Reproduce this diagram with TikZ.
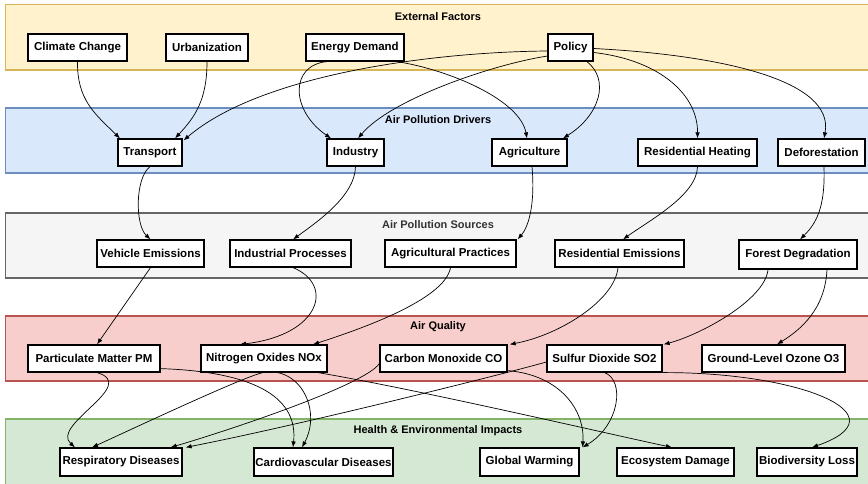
\documentclass[tikz,border=0pt]{standalone}
\usepackage{fontspec}
\setmainfont{Liberation Sans}
\usetikzlibrary{arrows.meta,calc}

\definecolor{extfill}{HTML}{FFF2CC}\definecolor{extline}{HTML}{D6B656}
\definecolor{drvfill}{HTML}{DAE8FC}\definecolor{drvline}{HTML}{6C8EBF}
\definecolor{srcfill}{HTML}{F5F5F5}\definecolor{srcline}{HTML}{666666}
\definecolor{aqfill}{HTML}{F8CECC}\definecolor{aqline}{HTML}{B85450}
\definecolor{heafill}{HTML}{D5E8D4}\definecolor{healine}{HTML}{82B366}
\definecolor{srctext}{HTML}{333333}

\pgfdeclarelayer{bg}
\pgfdeclarelayer{links}
\pgfsetlayers{bg,links,main}

\begin{document}
\begin{tikzpicture}[x=1pt,y=-1pt,
  box/.style={draw=black, line width=1.2pt, fill=white, minimum height=27pt,
    inner sep=0pt, font=\bfseries\fontsize{11.5}{13}\selectfont},
  band/.style={line width=1.3pt},
  bandtitle/.style={font=\bfseries\fontsize{11}{13}\selectfont, inner sep=0pt},
  link/.style={draw=black, line width=0.7pt, -{Latex[length=6pt,width=4.5pt]}}
]
\useasboundingbox (0,0) rectangle (868,484);

% layer bands and their titles
\begin{pgfonlayer}{bg}
  \draw[band, fill=extfill, draw=extline] (5.5,4.5) rectangle (875,70);
  \draw[band, fill=drvfill, draw=drvline] (5.5,108) rectangle (875,173);
  \draw[band, fill=srcfill, draw=srcline] (5.5,213) rectangle (875,278);
  \draw[band, fill=aqfill, draw=aqline] (5.5,316) rectangle (875,381);
  \draw[band, fill=heafill, draw=healine] (5.5,419) rectangle (875,492);
  \node[bandtitle] (tExt) at (438,17) {External Factors};
  \node[bandtitle] (tDrv) at (438,120) {Air Pollution Drivers};
  \node[bandtitle, text=srctext] (tSrc) at (438,224.5) {Air Pollution Sources};
  \node[bandtitle] (tAq) at (438,327) {Air Quality};
  \node[bandtitle] (tHea) at (438,431) {Health \& Environmental Impacts};
\end{pgfonlayer}

% external factors
\node[box, minimum width=99pt] (cc) at (77.5,47.5) {Climate Change};
\node[box, minimum width=82pt] (urb) at (207,47.5) {Urbanization};
\node[box, minimum width=98pt] (ed) at (355,47.5) {Energy Demand};
\node[box, minimum width=45pt] (pol) at (570.5,47.5) {Policy};

% drivers
\node[box, minimum width=64pt] (tr) at (150,152.5) {Transport};
\node[box, minimum width=57pt] (ind) at (355.5,152.5) {Industry};
\node[box, minimum width=75pt] (agr) at (529.5,152.5) {Agriculture};
\node[box, minimum width=119pt] (rh) at (697.5,152.5) {Residential Heating};
\node[box, minimum width=87pt] (def) at (821.5,152.5) {Deforestation};

% sources
\node[box, minimum width=107pt] (ve) at (150.5,253.5) {Vehicle Emissions};
\node[box, minimum width=121pt] (ip) at (290.5,253.5) {Industrial Processes};
\node[box, minimum width=131pt] (ap) at (450.5,253.5) {Agricultural Practices};
\node[box, minimum width=129pt] (re) at (619.5,253.5) {Residential Emissions};
\node[box, minimum width=118pt, minimum height=29pt] (fd) at (798,254.5) {Forest Degradation};

% air quality
\node[box, minimum width=132pt] (pm) at (94,358.5) {Particulate Matter PM};
\node[box, minimum width=126pt] (nox) at (264,358.5) {Nitrogen Oxides NOx};
\node[box, minimum width=127pt] (co) at (443.5,358.5) {Carbon Monoxide CO};
\node[box, minimum width=115pt] (so2) at (604.5,358.5) {Sulfur Dioxide SO2};
\node[box, minimum width=143pt] (o3) at (773.5,358.5) {Ground-Level Ozone O3};

% impacts
\node[box, minimum width=122pt, minimum height=28pt] (resp) at (121,462) {Respiratory Diseases};
\node[box, minimum width=139pt, minimum height=28pt] (cardio) at (323.5,462) {Cardiovascular Diseases};
\node[box, minimum width=99pt, minimum height=28pt] (gw) at (529.5,462) {Global Warming};
\node[box, minimum width=117pt, minimum height=28pt] (eco) at (675.5,462) {Ecosystem Damage};
\node[box, minimum width=100pt, minimum height=28pt] (bio) at (807,462) {Biodiversity Loss};

\begin{pgfonlayer}{links}
% external factors -> drivers
\draw[link] (cc.south) .. controls (77,100) and (95,114) .. ($(tr.north)+(-30,0)$);
\draw[link] (urb.south) .. controls (207,100) and (195,117) .. ($(tr.north)+(25,0)$);
\draw[link] ($(pol.west)+(0,3.5)$) .. controls (430,52) and (260,75) .. ($(tr.north east)+(1,2)$);
\draw[link] ($(ed.south)+(-28,0)$) .. controls (290,65) and (290,110) .. ($(ind.north)+(-24.5,0)$);
\draw[link] ($(ed.south)+(42,0)$) .. controls (450,70) and (520,100) .. ($(agr.north)+(-2.5,0)$);
\draw[link] ($(pol.west)+(0,8.5)$) .. controls (490,65) and (390,100) .. ($(ind.north)+(2.5,0)$);
\draw[link] ($(pol.south)+(16.5,0)$) .. controls (610,80) and (600,115) .. ($(agr.north)+(33.5,0)$);
\draw[link] ($(pol.east)+(0,5)$) .. controls (660,60) and (698,95) .. (rh.north);
\draw[link] ($(pol.east)+(0,1)$) .. controls (720,55) and (835,80) .. ($(def.north)+(2.5,0)$);

% drivers -> sources
\draw[link] (tr.south) .. controls (135,178) and (135,225) .. (ve.north);
\draw[link] (ind.south) .. controls (355,195) and (320,220) .. ($(ip.north)+(2.5,0)$);
\draw[link] ($(agr.south)+(2.5,0)$) .. controls (535,200) and (530,225) .. ($(ap.north east)+(1,0)$);
\draw[link] (rh.south) .. controls (697,195) and (650,220) .. ($(re.north)+(3.5,0)$);
\draw[link] ($(def.south)+(2.5,0)$) .. controls (825,200) and (820,220) .. ($(fd.north)+(2,0)$);

% sources -> air quality
\draw[link] (ve.south) -- ($(pm.north)+(3,0)$);
\draw[link] ($(ip.south)+(2.5,0)$) .. controls (335,285) and (320,335) .. ($(nox.north)+(-24,0)$);
\draw[link] (ap.south) .. controls (445,300) and (358,330) .. ($(nox.north)+(49,0)$);
\draw[link] ($(re.south)+(-1.5,0)$) .. controls (615,300) and (560,335) .. ($(co.north east)+(2,0)$);
\draw[link] ($(fd.south)+(-30,0)$) .. controls (765,300) and (700,335) .. ($(so2.north east)+(1,0)$);
\draw[link] ($(fd.south)+(29,0)$) .. controls (825,310) and (800,330) .. ($(o3.north)+(3.5,0)$);

% air quality -> impacts
\draw[link] ($(pm.south)+(3,0)$) .. controls (140,385) and (50,425) .. ($(resp.north)+(-46,0)$);
\draw[link] ($(pm.south east)+(0,-4)$) .. controls (260,372) and (298,400) .. ($(cardio.north)+(-30.5,0)$);
\draw[link] ($(nox.south)+(-1,0)$) .. controls (245,376) and (130,430) .. ($(resp.north)+(-29,0)$);
\draw[link] ($(nox.south)+(-3,0)$) .. controls (300,365) and (322,410) .. ($(cardio.north)+(-21.5,0)$);
\draw[link] ($(nox.south)+(54,0)$) .. controls (420,390) and (600,432) .. ($(eco.north)+(-3.5,0)$);
\draw[link] ($(co.west)+(0,5)$) .. controls (365,385) and (230,430) .. ($(resp.north east)+(-12,0)$);
\draw[link] ($(so2.west)+(0,3.5)$) .. controls (500,375) and (300,425) .. ($(resp.north east)+(3,0)$);
\draw[link] ($(co.south east)+(0,-2)$) .. controls (560,375) and (585,410) .. ($(gw.north east)+(3,0)$);
\draw[link] (so2.south) .. controls (625,380) and (620,425) .. ($(gw.north east)+(3,0)$);
\draw[link] (so2.south east) .. controls (800,372) and (905,415) .. ($(bio.north)+(5,0)$);
\end{pgfonlayer}
\end{tikzpicture}
\end{document}
